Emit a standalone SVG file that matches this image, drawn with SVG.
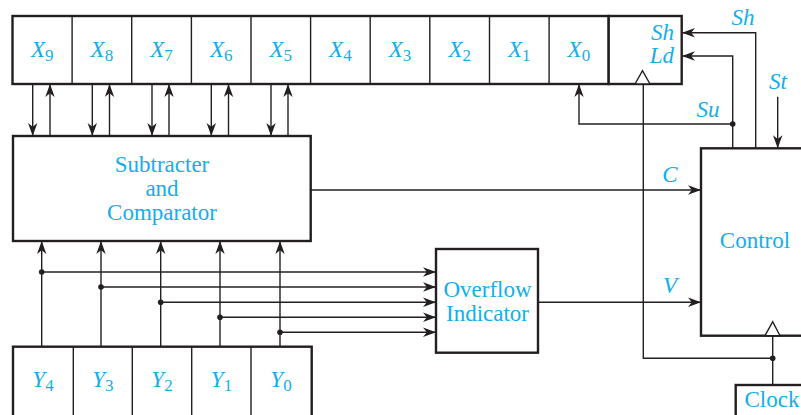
<svg xmlns="http://www.w3.org/2000/svg" width="801" height="415" viewBox="0 0 801 415">
<defs>
<style>
.box{fill:#fff;stroke:#231f20;stroke-width:2.4}
.dv{fill:none;stroke:#231f20;stroke-width:1.4}
.w{fill:none;stroke:#231f20;stroke-width:1.4}
.t{font-family:"Liberation Serif","Times New Roman",serif;fill:#12aeec;font-size:23px}
.i{font-style:italic}
.s{font-size:17px;font-style:normal}
.dot{fill:#231f20}
.tri{fill:#fff;stroke:#231f20;stroke-width:1.4}
</style>
<marker id="ah" viewBox="0 0 13 10" refX="13" refY="5" markerWidth="13" markerHeight="10" markerUnits="userSpaceOnUse" orient="auto">
<path d="M0,0.3 L13,5 L0,9.7 L3.8,5 Z" fill="#231f20"/>
</marker>
</defs>
<rect width="801" height="415" fill="#fff"/>

<g id="connectors">
<line class="w" x1="32.7" y1="84" x2="32.7" y2="136" marker-end="url(#ah)"/>
<line class="w" x1="50" y1="136" x2="50" y2="84" marker-end="url(#ah)"/>
<line class="w" x1="92.3" y1="84" x2="92.3" y2="136" marker-end="url(#ah)"/>
<line class="w" x1="109.5" y1="136" x2="109.5" y2="84" marker-end="url(#ah)"/>
<line class="w" x1="152" y1="84" x2="152" y2="136" marker-end="url(#ah)"/>
<line class="w" x1="169" y1="136" x2="169" y2="84" marker-end="url(#ah)"/>
<line class="w" x1="211.3" y1="84" x2="211.3" y2="136" marker-end="url(#ah)"/>
<line class="w" x1="228.5" y1="136" x2="228.5" y2="84" marker-end="url(#ah)"/>
<line class="w" x1="271" y1="84" x2="271" y2="136" marker-end="url(#ah)"/>
<line class="w" x1="288" y1="136" x2="288" y2="84" marker-end="url(#ah)"/>
<line class="w" x1="41.7" y1="346.7" x2="41.7" y2="241" marker-end="url(#ah)"/>
<line class="w" x1="101" y1="346.7" x2="101" y2="241" marker-end="url(#ah)"/>
<line class="w" x1="160.7" y1="346.7" x2="160.7" y2="241" marker-end="url(#ah)"/>
<line class="w" x1="220" y1="346.7" x2="220" y2="241" marker-end="url(#ah)"/>
<line class="w" x1="280" y1="346.7" x2="280" y2="241" marker-end="url(#ah)"/>
<line class="w" x1="41.7" y1="272" x2="436" y2="272" marker-end="url(#ah)"/>
<line class="w" x1="101" y1="287" x2="436" y2="287" marker-end="url(#ah)"/>
<line class="w" x1="160.7" y1="302.3" x2="436" y2="302.3" marker-end="url(#ah)"/>
<line class="w" x1="220" y1="317.3" x2="436" y2="317.3" marker-end="url(#ah)"/>
<line class="w" x1="280" y1="332.3" x2="436" y2="332.3" marker-end="url(#ah)"/>
<circle class="dot" cx="41.7" cy="272" r="2.8"/>
<circle class="dot" cx="101" cy="287" r="2.8"/>
<circle class="dot" cx="160.7" cy="302.3" r="2.8"/>
<circle class="dot" cx="220" cy="317.3" r="2.8"/>
<circle class="dot" cx="280" cy="332.3" r="2.8"/>
<line class="w" x1="310.7" y1="190" x2="701" y2="190" marker-end="url(#ah)"/>
<line class="w" x1="538" y1="302.3" x2="701" y2="302.3" marker-end="url(#ah)"/>
<polyline class="w" points="772.7,385 772.7,335.7"/>
<polyline class="w" points="772.7,358.3 643.3,358.3 643.3,84"/>
<circle class="dot" cx="772.7" cy="358.3" r="2.8"/>
<polyline class="w" points="755.7,148.3 755.7,32.7 682,32.7" marker-end="url(#ah)"/>
<polyline class="w" points="732.7,148.3 732.7,56 682,56" marker-end="url(#ah)"/>
<polyline class="w" points="732.7,124 579,124 579,84" marker-end="url(#ah)"/>
<circle class="dot" cx="732.7" cy="124" r="2.8"/>
<line class="w" x1="777.7" y1="96.7" x2="777.7" y2="148.3" marker-end="url(#ah)"/>
<text class="t i" x="743" y="25" text-anchor="middle">Sh</text>
<text class="t i" x="708" y="117" text-anchor="middle">Su</text>
<text class="t i" x="778" y="89" text-anchor="middle">St</text>
<text class="t i" x="670" y="182" text-anchor="middle">C</text>
<text class="t i" x="670" y="293" text-anchor="middle">V</text>
</g>

<g id="register-x">
<rect class="box" x="12.5" y="16" width="596.2" height="68"/>
<line class="dv" x1="72.1" y1="16" x2="72.1" y2="84"/>
<line class="dv" x1="131.7" y1="16" x2="131.7" y2="84"/>
<line class="dv" x1="191.4" y1="16" x2="191.4" y2="84"/>
<line class="dv" x1="251" y1="16" x2="251" y2="84"/>
<line class="dv" x1="310.6" y1="16" x2="310.6" y2="84"/>
<line class="dv" x1="370.2" y1="16" x2="370.2" y2="84"/>
<line class="dv" x1="429.8" y1="16" x2="429.8" y2="84"/>
<line class="dv" x1="489.5" y1="16" x2="489.5" y2="84"/>
<line class="dv" x1="549.1" y1="16" x2="549.1" y2="84"/>
<text class="t" x="42.3" y="57" text-anchor="middle"><tspan class="i">X</tspan><tspan class="s" dy="4">9</tspan></text>
<text class="t" x="101.9" y="57" text-anchor="middle"><tspan class="i">X</tspan><tspan class="s" dy="4">8</tspan></text>
<text class="t" x="161.5" y="57" text-anchor="middle"><tspan class="i">X</tspan><tspan class="s" dy="4">7</tspan></text>
<text class="t" x="221.2" y="57" text-anchor="middle"><tspan class="i">X</tspan><tspan class="s" dy="4">6</tspan></text>
<text class="t" x="280.8" y="57" text-anchor="middle"><tspan class="i">X</tspan><tspan class="s" dy="4">5</tspan></text>
<text class="t" x="340.4" y="57" text-anchor="middle"><tspan class="i">X</tspan><tspan class="s" dy="4">4</tspan></text>
<text class="t" x="400" y="57" text-anchor="middle"><tspan class="i">X</tspan><tspan class="s" dy="4">3</tspan></text>
<text class="t" x="459.7" y="57" text-anchor="middle"><tspan class="i">X</tspan><tspan class="s" dy="4">2</tspan></text>
<text class="t" x="519.3" y="57" text-anchor="middle"><tspan class="i">X</tspan><tspan class="s" dy="4">1</tspan></text>
<text class="t" x="578.9" y="57" text-anchor="middle"><tspan class="i">X</tspan><tspan class="s" dy="4">0</tspan></text>
</g>

<g id="shld">
<rect class="box" x="608.7" y="16" width="73" height="68"/>
<text class="t i" x="674" y="39.5" text-anchor="end">Sh</text>
<text class="t i" x="674" y="63" text-anchor="end">Ld</text>
<polygon class="tri" points="635,84 642.5,70.7 650,84"/>
</g>

<g id="subtracter">
<rect class="box" x="13" y="136" width="297.7" height="105"/>
<text class="t" x="162" y="171.5" text-anchor="middle">Subtracter</text>
<text class="t" x="162" y="195.5" text-anchor="middle">and</text>
<text class="t" x="162" y="219.5" text-anchor="middle">Comparator</text>
</g>

<g id="overflow">
<rect class="box" x="436" y="249" width="102" height="103.7"/>
<text class="t" x="487.5" y="297" text-anchor="middle">Overflow</text>
<text class="t" x="487.5" y="321" text-anchor="middle">Indicator</text>
</g>

<g id="register-y">
<rect class="box" x="13" y="346.7" width="298.7" height="90"/>
<line class="dv" x1="73.3" y1="346.7" x2="73.3" y2="415"/>
<line class="dv" x1="132.3" y1="346.7" x2="132.3" y2="415"/>
<line class="dv" x1="191.7" y1="346.7" x2="191.7" y2="415"/>
<line class="dv" x1="251" y1="346.7" x2="251" y2="415"/>
<text class="t" x="43" y="387" text-anchor="middle"><tspan class="i">Y</tspan><tspan class="s" dy="4">4</tspan></text>
<text class="t" x="102.8" y="387" text-anchor="middle"><tspan class="i">Y</tspan><tspan class="s" dy="4">3</tspan></text>
<text class="t" x="162" y="387" text-anchor="middle"><tspan class="i">Y</tspan><tspan class="s" dy="4">2</tspan></text>
<text class="t" x="221.5" y="387" text-anchor="middle"><tspan class="i">Y</tspan><tspan class="s" dy="4">1</tspan></text>
<text class="t" x="281" y="387" text-anchor="middle"><tspan class="i">Y</tspan><tspan class="s" dy="4">0</tspan></text>
</g>

<g id="control">
<rect class="box" x="701" y="148.3" width="130" height="187.4"/>
<text class="t" x="755" y="248" text-anchor="middle">Control</text>
<polygon class="tri" points="765,335.7 772.7,321.7 780,335.7"/>
</g>

<g id="clock">
<rect class="box" x="735.7" y="385" width="100" height="50"/>
<text class="t" x="744.5" y="407">Clock</text>
</g>
</svg>
